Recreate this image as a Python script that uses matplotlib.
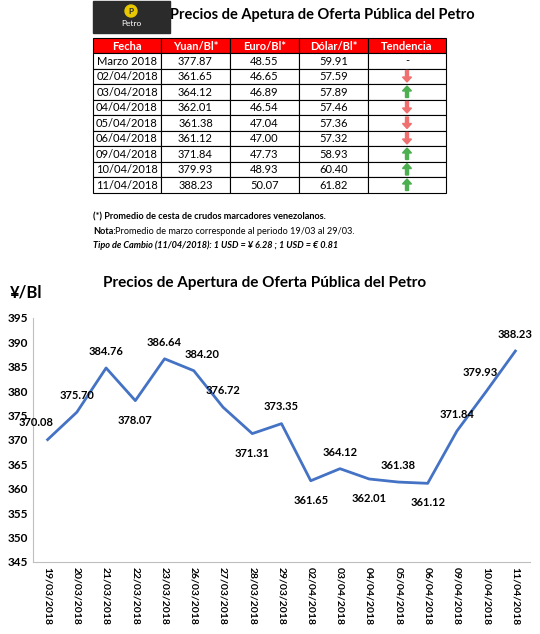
import matplotlib
matplotlib.use("Agg")
import matplotlib.pyplot as plt
from matplotlib.patches import Rectangle, FancyArrow

plt.rcParams['font.family'] = ['Lato', 'DejaVu Sans']

fechas_tabla = ["Marzo 2018", "02/04/2018", "03/04/2018", "04/04/2018", "05/04/2018",
                "06/04/2018", "09/04/2018", "10/04/2018", "11/04/2018"]
yuan_tabla = ["377.87", "361.65", "364.12", "362.01", "361.38", "361.12", "371.84", "379.93", "388.23"]
euro_tabla = ["48.55", "46.65", "46.89", "46.54", "47.04", "47.00", "47.73", "48.93", "50.07"]
dolar_tabla = ["59.91", "57.59", "57.89", "57.46", "57.36", "57.32", "58.93", "60.40", "61.82"]
tendencia = [0, -1, 1, -1, -1, -1, 1, 1, 1]
headers = ["Fecha", "Yuan/Bl*", "Euro/Bl*", "Dólar/Bl*", "Tendencia"]

fechas = ["19/03/2018", "20/03/2018", "21/03/2018", "22/03/2018", "23/03/2018", "26/03/2018",
          "27/03/2018", "28/03/2018", "29/03/2018", "02/04/2018", "03/04/2018", "04/04/2018",
          "05/04/2018", "06/04/2018", "09/04/2018", "10/04/2018", "11/04/2018"]
yuan = [370.08, 375.70, 384.76, 378.07, 386.64, 384.20, 376.72, 371.31, 373.35,
        361.65, 364.12, 362.01, 361.38, 361.12, 371.84, 379.93, 388.23]
label_off = [(-8, 12), (0, 12), (0, 12), (0, -14), (0, 12), (6, 12), (0, 12), (0, -14), (0, 12),
             (0, -14), (0, 12), (0, -14), (0, 12), (0, -14), (0, 12), (-4, 14), (0, 12)]

W, H = 540, 634
fig = plt.figure(figsize=(W/100, H/100), dpi=100)
ov = fig.add_axes([0, 0, 1, 1])
ov.set_xlim(0, W); ov.set_ylim(H, 0); ov.axis('off')

ov.add_patch(Rectangle((93, 1), 77, 32, color='#2b2b2b'))
ov.add_patch(plt.Circle((131, 11), 6, color='#e8c800'))
ov.text(131, 11, "P", ha='center', va='center', fontsize=6, fontweight='bold', color='#2b2b2b')
ov.text(131, 23, "Petro", ha='center', va='center', fontsize=6, color='white')
ov.text(322, 15, "Precios de Apetura de Oferta Pública del Petro", ha='center', va='center',
        fontsize=10.5, fontweight='bold')

cols = [93, 161, 230, 299, 368, 446]
top, hh, rh = 38, 15, 15.5
for j, h in enumerate(headers):
    ov.add_patch(Rectangle((cols[j], top), cols[j+1]-cols[j], hh, facecolor='#ff0000',
                           edgecolor='black', lw=0.8))
    ov.text((cols[j]+cols[j+1])/2, top+hh/2+0.5, h, ha='center', va='center', color='white',
            fontsize=8, fontweight='bold')
for i in range(len(fechas_tabla)):
    y0 = top + hh + i*rh
    vals = [fechas_tabla[i], yuan_tabla[i], euro_tabla[i], dolar_tabla[i]]
    for j in range(5):
        ov.add_patch(Rectangle((cols[j], y0), cols[j+1]-cols[j], rh, facecolor='white',
                               edgecolor='black', lw=0.8))
    for j, v in enumerate(vals):
        ov.text((cols[j]+cols[j+1])/2, y0+rh/2+0.5, v, ha='center', va='center', fontsize=8)
    cx = (cols[4]+cols[5])/2
    t = tendencia[i]
    if t == 0:
        ov.text(cx, y0+rh/2, "-", ha='center', va='center', fontsize=8)
    elif t > 0:
        ov.add_patch(FancyArrow(cx, y0+rh-2, 0, -(rh-4), width=3, head_width=9, head_length=5,
                                length_includes_head=True, color='#4caf50'))
    else:
        ov.add_patch(FancyArrow(cx, y0+2, 0, rh-4, width=3, head_width=9, head_length=5,
                                length_includes_head=True, color='#f07070'))

ov.text(93, 217, "(*) Promedio de cesta de crudos marcadores venezolanos.", fontsize=6.6,
        fontweight='bold', va='center')
ov.text(93, 231, "Nota:", fontsize=6.6, fontweight='bold', va='center')
ov.text(115, 231, "Promedio de marzo corresponde al periodo 19/03 al 29/03.", fontsize=6.6, va='center')
ov.text(93, 245, "Tipo de Cambio (11/04/2018): 1 USD = ¥ 6.28 ; 1 USD = € 0.81", fontsize=6.6,
        fontweight='bold', style='italic', va='center')

ov.text(265, 283, "Precios de Apertura de Oferta Pública del Petro", ha='center', va='center',
        fontsize=11, fontweight='bold')
ov.text(10, 293, "¥/Bl", ha='left', va='center', fontsize=12, fontweight='bold')

ax = fig.add_axes([33/W, 1-562/H, (530-33)/W, (562-318)/H])
x = list(range(len(fechas)))
ax.plot(x, yuan, color='#4472c4', lw=2)
for xi, v, o in zip(x, yuan, label_off):
    ax.annotate(f"{v:.2f}", (xi, v), xytext=o, textcoords='offset points',
                ha='center', va='center', fontsize=8, fontweight='bold')
ax.set_ylim(345, 395)
ax.set_yticks(range(345, 396, 5))
ax.set_xlim(-0.5, len(fechas)-0.5)
ax.set_xticks(x)
ax.set_xticklabels(fechas, rotation=270, fontsize=7.5, fontweight='bold')
for lbl in ax.get_yticklabels():
    lbl.set_fontweight('bold'); lbl.set_fontsize(8.5)
ax.tick_params(length=0)
ax.grid(False)
for s in ax.spines.values():
    s.set_color('#bfbfbf')
ax.spines['top'].set_visible(False); ax.spines['right'].set_visible(False)

fig.savefig("out.png", dpi=100)
